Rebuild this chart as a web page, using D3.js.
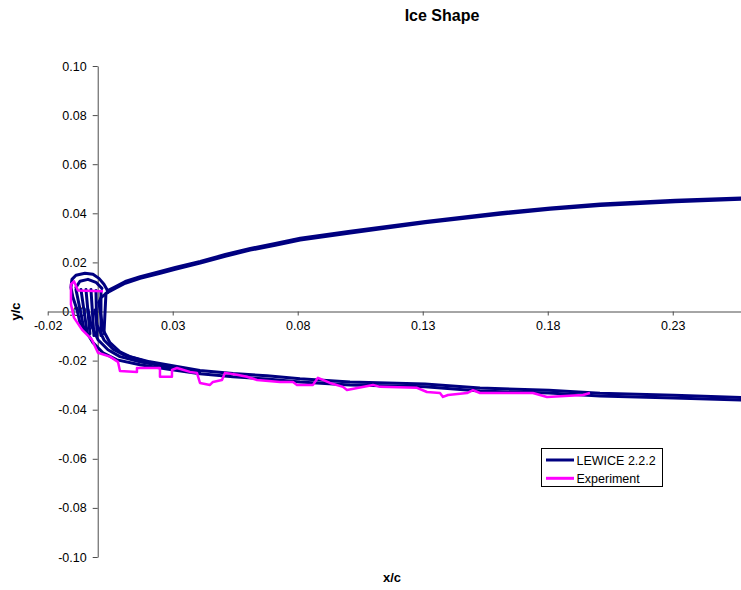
<!DOCTYPE html>
<html>
<head>
<meta charset="utf-8">
<script src="https://cdn.jsdelivr.net/npm/d3@7"></script>
<style>
  html, body { margin: 0; padding: 0; background: #ffffff; }
</style>
</head>
<body>
<div id="chart"></div>
<script>
/////////////////////////////////////////////////////////////////////
////////////////////////////// DATA /////////////////////////////////
/////////////////////////////////////////////////////////////////////

//axis ticks
const xTicks = [-0.02, 0.03, 0.08, 0.13, 0.18, 0.23];
const yTicks = [-0.10, -0.08, -0.06, -0.04, -0.02, 0.00, 0.02, 0.04, 0.06, 0.08, 0.10];

//LEWICE 2.2.2 - upper surface (clean + ice edge of the band)
const upperX    = [0.004, 0.007, 0.011, 0.017, 0.025, 0.031, 0.041, 0.051, 0.061, 0.071, 0.081, 0.101, 0.131, 0.161, 0.181, 0.201, 0.231, 0.258];
const upperY    = [0.0078, 0.0094, 0.0115, 0.0135, 0.0156, 0.0172, 0.0197, 0.0225, 0.0250, 0.0270, 0.0291, 0.0320, 0.0361, 0.0396, 0.0416, 0.0432, 0.0447, 0.0457];
const upperIceY = [0.0085, 0.0101, 0.0122, 0.0142, 0.0163, 0.0179, 0.0204, 0.0232, 0.0257, 0.0277, 0.0298, 0.0327, 0.0367, 0.0402, 0.0422, 0.0438, 0.0453, 0.0463];

//LEWICE 2.2.2 - lower surface, outer ice edge
const lowerOuterX = [-0.0083, -0.0071, -0.0043, -0.0019, 0.0021, 0.0077, 0.0169, 0.0277, 0.0409, 0.0541, 0.0677, 0.0809, 0.1009, 0.1309, 0.1529, 0.1805, 0.2009, 0.2305, 0.2573];
const lowerOuterY = [0.0008, -0.0045, -0.0086, -0.0127, -0.0168, -0.0197, -0.0217, -0.0234, -0.0254, -0.0266, -0.0275, -0.0287, -0.0299, -0.0307, -0.0324, -0.0332, -0.0344, -0.0352, -0.0361];

//LEWICE 2.2.2 - lower surface, intermediate layers near the leading edge
const lowerMidX = [-0.0039, -0.0027, 0.0001, 0.0041, 0.0089, 0.0169, 0.0277, 0.0409];
const lowerMidY = [0.0008, -0.0053, -0.0115, -0.0156, -0.0184, -0.0205, -0.0225, -0.0245];
const lowerMid2X = [-0.0011, -0.0003, 0.0025, 0.0061, 0.0105, 0.0189, 0.0277];
const lowerMid2Y = [0.0006, -0.0055, -0.0116, -0.0153, -0.0177, -0.0202, -0.0222];

//LEWICE 2.2.2 - lower surface, clean side
const lowerInnerX = [0.0005, 0.0009, 0.0021, 0.0049, 0.0089, 0.0129, 0.0209, 0.0277, 0.0409, 0.0541, 0.0677, 0.0809, 0.1009, 0.1309, 0.1529, 0.1805, 0.2009, 0.2305, 0.2573];
const lowerInnerY = [0.0037, 0.0008, -0.0074, -0.0127, -0.0164, -0.0184, -0.0205, -0.0217, -0.0240, -0.0253, -0.0262, -0.0274, -0.0287, -0.0295, -0.0312, -0.0321, -0.0333, -0.0341, -0.0350];

//LEWICE 2.2.2 - horn at the leading edge
const hornX = [-0.0083, -0.0099, -0.0107, -0.0103, -0.0087, -0.0051, -0.0019, 0.0005, 0.0025, 0.0037, 0.0040];
const hornY = [0.0008, 0.0057, 0.0098, 0.0131, 0.0148, 0.0156, 0.0152, 0.0135, 0.0111, 0.0090, 0.0078];
const loopX = [-0.0087, -0.0071, -0.0039, -0.0007, 0.0017];
const loopY = [0.0098, 0.0123, 0.0131, 0.0119, 0.0094];
const noseX = [0.0005, 0.0013, 0.0040];
const noseY = [0.0037, 0.0057, 0.0078];

//LEWICE 2.2.2 - growth lines inside the horn
const hatchTopX = [-0.0087, -0.0067, -0.0047, -0.0027, -0.0007, 0.0013, 0.0033];
const hatchTopY = [0.0090, 0.0090, 0.0090, 0.0090, 0.0086, 0.0082, 0.0074];
const hatchBotX = [-0.0055, -0.0043, -0.0031, -0.0015, -0.0003, 0.0013, 0.0025];
const hatchBotY = [-0.0070, -0.0080, -0.0090, -0.0098, -0.0100, -0.0098, -0.0090];

//Experiment
const expX = [0.0021, -0.0079, -0.0095, -0.0107, -0.0107, -0.0095, -0.0063, -0.0023, 0.0001, 0.0049, 0.0081, 0.0089, 0.0157, 0.0157, 0.0249, 0.0249, 0.0297, 0.0297, 0.0317, 0.0369, 0.0397, 0.0409, 0.0449, 0.0461, 0.0497, 0.0509, 0.0557, 0.0597, 0.0637, 0.0729, 0.0781, 0.0797, 0.0861, 0.0881, 0.0929, 0.0981, 0.0997, 0.1101, 0.1129, 0.1277, 0.1317, 0.1369, 0.1381, 0.1401, 0.1477, 0.1501, 0.1529, 0.1741, 0.1769, 0.1797, 0.1941, 0.1969];
const expY = [0.0082, 0.0086, 0.0123, 0.0111, 0.0029, -0.0025, -0.0074, -0.0115, -0.0168, -0.0184, -0.0205, -0.0242, -0.0246, -0.0230, -0.0230, -0.0266, -0.0266, -0.0238, -0.0230, -0.0246, -0.0250, -0.0291, -0.0299, -0.0287, -0.0279, -0.0250, -0.0258, -0.0266, -0.0279, -0.0287, -0.0287, -0.0299, -0.0299, -0.0270, -0.0291, -0.0307, -0.0320, -0.0299, -0.0307, -0.0311, -0.0328, -0.0332, -0.0348, -0.0340, -0.0332, -0.0320, -0.0332, -0.0332, -0.0340, -0.0348, -0.0340, -0.0332];

const seriesNames = ["LEWICE 2.2.2", "Experiment"];

/////////////////////////////////////////////////////////////////////
///////////////////////// SETTINGS //////////////////////////////////
/////////////////////////////////////////////////////////////////////

const WIDTH = 741;
const HEIGHT = 590;
const FONT = "Arial, 'Liberation Sans', Helvetica, sans-serif";

const COLORS = {
    "lewice": "#000080",
    "experiment": "#ff00ff",
    "axis": "#4d4d4d",
    "text": "#000000"
};

const svg = d3.select("#chart").append("svg")
    .attr("width", WIDTH)
    .attr("height", HEIGHT)
    .style("display", "block")
    .style("font-family", FONT);

svg.append("rect")
    .attr("width", WIDTH)
    .attr("height", HEIGHT)
    .attr("fill", "#ffffff");

//scales
const x = d3.scaleLinear()
    .domain([-0.02, 0.2573])
    .range([47.7, 741]);

const y = d3.scaleLinear()
    .domain([-0.10, 0.10])
    .range([557, 66]);

/////////////////////////////////////////////////////////////////////
/////////////////////////// AXES ////////////////////////////////////
/////////////////////////////////////////////////////////////////////

const yAxis = svg.append("g")
    .attr("transform", `translate(${x(0)},0)`)
    .call(d3.axisLeft(y)
        .tickValues(yTicks)
        .tickFormat(d => d.toFixed(2))
        .tickSize(5)
        .tickSizeOuter(0)
        .tickPadding(6));

const xAxis = svg.append("g")
    .attr("transform", `translate(0,${y(0)})`)
    .call(d3.axisBottom(x)
        .tickValues(xTicks)
        .tickFormat(d => d.toFixed(2))
        .tickSize(4)
        .tickSizeOuter(0)
        .tickPadding(6));

[xAxis, yAxis].forEach(a => {
    a.selectAll("path, line").attr("stroke", COLORS.axis).attr("stroke-width", 1);
    a.selectAll("text")
        .attr("fill", COLORS.text)
        .style("font-size", "12.5px")
        .style("font-family", FONT);
});

/////////////////////////////////////////////////////////////////////
/////////////////////////// LINES ///////////////////////////////////
/////////////////////////////////////////////////////////////////////

const line = d3.line()
    .x(d => x(d[0]))
    .y(d => y(d[1]));

const zip = (xs, ys) => xs.map((v, i) => [v, ys[i]]);

const lewiceParts = [
    zip(upperX, upperY),
    zip(upperX, upperIceY),
    zip(lowerOuterX, lowerOuterY),
    zip(lowerMidX, lowerMidY),
    zip(lowerMid2X, lowerMid2Y),
    zip(lowerInnerX, lowerInnerY),
    zip(hornX, hornY),
    zip(loopX, loopY),
    zip(noseX, noseY)
];
hatchTopX.forEach((v, i) => {
    lewiceParts.push([[v, hatchTopY[i]], [hatchBotX[i], hatchBotY[i]]]);
});

const plot = svg.append("g");

plot.append("g")
    .attr("id", "lewice")
    .selectAll("path")
    .data(lewiceParts)
    .join("path")
        .attr("d", line)
        .attr("fill", "none")
        .attr("stroke", COLORS.lewice)
        .attr("stroke-width", 3)
        .attr("stroke-linejoin", "round")
        .attr("stroke-linecap", "round");

plot.append("path")
    .attr("id", "experiment")
    .datum(zip(expX, expY))
    .attr("d", line)
    .attr("fill", "none")
    .attr("stroke", COLORS.experiment)
    .attr("stroke-width", 2.5)
    .attr("stroke-linejoin", "round");

/////////////////////////////////////////////////////////////////////
////////////////////////// LABELS ///////////////////////////////////
/////////////////////////////////////////////////////////////////////

svg.append("text")
    .attr("x", 442)
    .attr("y", 20.5)
    .attr("text-anchor", "middle")
    .style("font-size", "16px")
    .style("font-weight", "bold")
    .text("Ice Shape");

svg.append("text")
    .attr("x", 392)
    .attr("y", 582)
    .attr("text-anchor", "middle")
    .style("font-size", "13px")
    .style("font-weight", "bold")
    .text("x/c");

svg.append("text")
    .attr("transform", `translate(19.5,${y(0)}) rotate(-90)`)
    .attr("text-anchor", "middle")
    .style("font-size", "13px")
    .style("font-weight", "bold")
    .text("y/c");

//legend
const legend = svg.append("g").attr("transform", "translate(541.5,448.5)");

legend.append("rect")
    .attr("width", 121)
    .attr("height", 38)
    .attr("fill", "#ffffff")
    .attr("stroke", "#000000")
    .attr("stroke-width", 1);

legend.selectAll("g.item")
    .data(seriesNames)
    .join("g")
        .attr("class", "item")
        .attr("transform", (d, i) => `translate(0,${11.5 + i * 18.3})`)
        .each(function(d, i) {
            const item = d3.select(this);
            item.append("line")
                .attr("x1", 4.5).attr("x2", 32.5)
                .attr("stroke", i === 0 ? COLORS.lewice : COLORS.experiment)
                .attr("stroke-width", 3);
            item.append("text")
                .attr("x", 35)
                .attr("y", 4.5)
                .style("font-size", "12.5px")
                .text(d);
        });
</script>
</body>
</html>
